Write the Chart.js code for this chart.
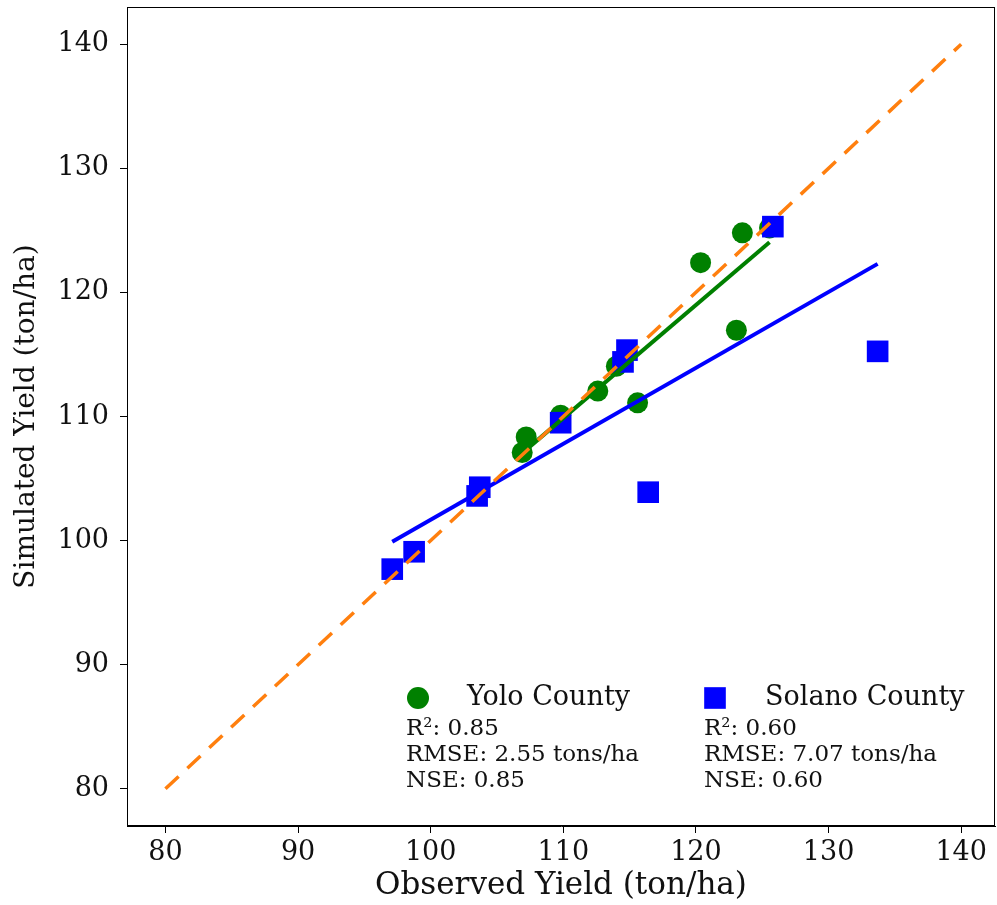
<!DOCTYPE html>
<html>
<head>
<meta charset="utf-8">
<script src="https://cdn.jsdelivr.net/npm/chart.js@4.4.0/dist/chart.umd.min.js"></script>
<style>
  html, body { margin: 0; padding: 0; background: #fff; }
  #wrap { width: 997px; height: 905px; }
</style>
</head>
<body>
<div id="wrap"><canvas id="yieldChart"></canvas></div>
<script>
// values
const yoloObserved = [106.9, 107.2, 109.8, 112.6, 114.0, 115.6, 120.35, 123.05, 123.5, 125.55];
const yoloSimulated = [107.1, 108.35, 110.1, 112.05, 114.05, 111.1, 122.4, 116.95, 124.8, 125.2];
const solanoObserved = [97.1, 98.75, 103.5, 103.7, 109.8, 114.5, 114.8, 116.4, 125.8, 133.7];
const solanoSimulated = [97.7, 99.1, 103.6, 104.3, 109.5, 114.4, 115.35, 103.9, 125.3, 115.25];

// fitted lines (end points as drawn)
const yoloFitX = [106.9, 125.55];
const yoloFitY = [107.05, 124.05];
const solanoFitX = [97.1, 133.7];
const solanoFitY = [99.9, 122.3];
const oneToOne = [80, 140];

const tickValues = [80, 90, 100, 110, 120, 130, 140];
const yoloStats = ['R²: 0.85', 'RMSE: 2.55 tons/ha', 'NSE: 0.85'];
const solanoStats = ['R²: 0.60', 'RMSE: 7.07 tons/ha', 'NSE: 0.60'];

const FONT = 'DejaVu Serif';
const toPoints = (xs, ys) => xs.map((x, i) => ({ x: x, y: ys[i] }));
const fixedTicks = (scale) => { scale.ticks = tickValues.map(v => ({ value: v })); };
const noEdgePadding = (s) => { s.paddingTop = 0; s.paddingBottom = 0; s.paddingLeft = 0; s.paddingRight = 0; };

// box round the plot area
const plotFrame = {
    id: 'plotFrame',
    afterDraw(chart) {
        const { ctx, chartArea: a } = chart;
        ctx.save();
        ctx.strokeStyle = '#000';
        ctx.lineWidth = 1;
        ctx.strokeRect(a.left + 0.5, a.top + 0.5, a.right - a.left - 1, a.bottom - a.top - 1);
        ctx.restore();
    }
};

// legend with the stats text under each entry
const statsLegend = {
    id: 'statsLegend',
    afterDatasetsDraw(chart) {
        const ctx = chart.ctx;
        ctx.save();
        ctx.fillStyle = '#008000';
        Chart.helpers.drawPoint(ctx, { pointStyle: 'circle', radius: 11, borderWidth: 0 }, 418, 698);
        ctx.fillStyle = '#0000ff';
        Chart.helpers.drawPoint(ctx, { pointStyle: 'rect', radius: 15.3, borderWidth: 0 }, 715, 698);

        ctx.fillStyle = '#111';
        ctx.textAlign = 'left';
        ctx.textBaseline = 'alphabetic';
        ctx.font = '27px "' + FONT + '"';
        ctx.fillText('Yolo County', 467, 705);
        ctx.fillText('Solano County', 765, 705);

        ctx.font = '23px "' + FONT + '"';
        yoloStats.forEach((t, i) => ctx.fillText(t, 406, 735 + i * 26));
        solanoStats.forEach((t, i) => ctx.fillText(t, 704, 735 + i * 26));
        ctx.restore();
    }
};

const ctx = document.getElementById('yieldChart').getContext('2d');
const yieldChart = new Chart(ctx, {
    type: 'scatter',
    data: {
        datasets: [
            { label: '1:1', data: toPoints(oneToOne, oneToOne), showLine: true, borderColor: '#ff7f0e', borderWidth: 3.5, borderDash: [18, 12], pointRadius: 0, order: 0 },
            { label: 'Solano fit', data: toPoints(solanoFitX, solanoFitY), showLine: true, borderColor: '#0000ff', borderWidth: 4, pointRadius: 0, order: 1 },
            { label: 'Yolo fit', data: toPoints(yoloFitX, yoloFitY), showLine: true, borderColor: '#008000', borderWidth: 4, pointRadius: 0, order: 2 },
            { label: 'Solano County', data: toPoints(solanoObserved, solanoSimulated), pointStyle: 'rect', pointRadius: 15.3, backgroundColor: '#0000ff', borderWidth: 0, order: 3 },
            { label: 'Yolo County', data: toPoints(yoloObserved, yoloSimulated), pointStyle: 'circle', pointRadius: 10.5, backgroundColor: '#008000', borderWidth: 0, order: 4 }
        ]
    },
    options: {
        responsive: true,
        maintainAspectRatio: false,
        animation: false,
        layout: { autoPadding: false, padding: { top: 7, right: 2, left: 0, bottom: 0 } },
        plugins: { legend: { display: false }, tooltip: { enabled: false } },
        scales: {
            x: {
                type: 'linear', min: 77.1, max: 142.55,
                afterBuildTicks: fixedTicks,
                afterFit: (s) => { s.height = 79; noEdgePadding(s); },
                grid: { drawOnChartArea: false, drawTicks: true, tickLength: 7, color: '#000' },
                border: { display: true, color: '#000', width: 1 },
                ticks: { color: '#111', font: { family: FONT, size: 27 }, padding: 4, maxRotation: 0, autoSkip: false },
                title: { display: true, text: 'Observed Yield (ton/ha)', color: '#111', font: { family: FONT, size: 31 }, padding: { top: 0, bottom: 0 } }
            },
            y: {
                type: 'linear', min: 77, max: 143,
                afterBuildTicks: fixedTicks,
                afterFit: (s) => { s.width = 127; noEdgePadding(s); },
                grid: { drawOnChartArea: false, drawTicks: true, tickLength: 7, color: '#000' },
                border: { display: true, color: '#000', width: 1 },
                ticks: { color: '#111', font: { family: FONT, size: 27 }, padding: 11, autoSkip: false },
                title: { display: true, text: 'Simulated Yield (ton/ha)', color: '#111', font: { family: FONT, size: 28 }, padding: { top: 10, bottom: 0 } }
            }
        }
    },
    plugins: [plotFrame, statsLegend]
});
</script>
</body>
</html>
